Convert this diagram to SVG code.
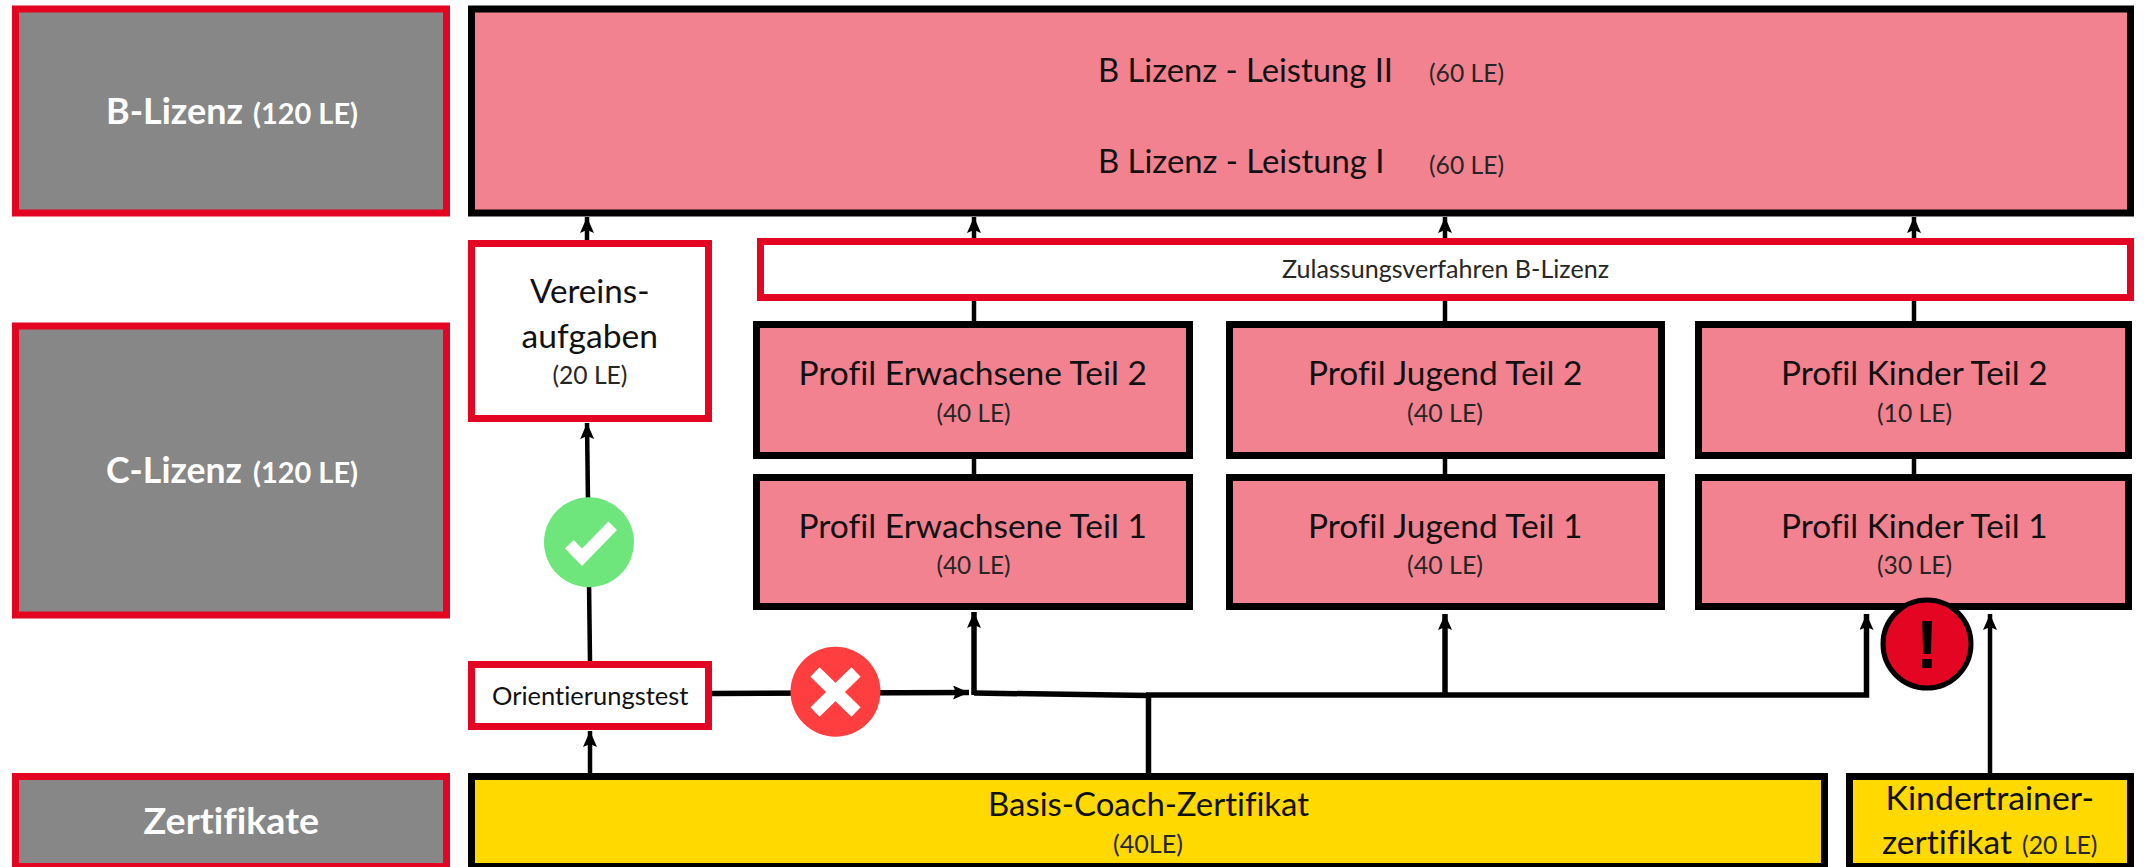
<svg xmlns="http://www.w3.org/2000/svg" width="2144" height="867" viewBox="0 0 2144 867">
<style>
text{font-family:"Lato","Carlito","Open Sans",sans-serif;fill:#111;font-variant-ligatures:none}
.h{font-size:37px;font-weight:700;fill:#fff}
.hs{font-size:28px;font-weight:700;fill:#fff}
.m{font-size:33px}
.s{font-size:25px;fill:#262626}
.bx{stroke-width:7}
.grey{fill:#878787;stroke:#e30521}
.pink{fill:#f28290;stroke:#000}
.white{fill:#fff;stroke:#e30521}
.yellow{fill:#ffd900;stroke:#000}
.c{fill:none;stroke:#000;stroke-width:4.5}
.t{stroke-width:5.5}
.a{marker-end:url(#arr)}
</style>
<defs>
<marker id="arr" markerUnits="userSpaceOnUse" markerWidth="18" markerHeight="16" refX="16" refY="7" orient="auto">
<path d="M0 0L16 7L0 14L3 7Z" fill="#000"/>
</marker>
</defs>
<rect width="2144" height="867" fill="#fff"/>
<g id="connectors">
<path class="c a" d="M587 240L587 217"/>
<path class="c a" d="M974 321L974 217"/>
<path class="c a" d="M1445 321L1445 217"/>
<path class="c a" d="M1914 321L1914 217"/>
<path class="c" d="M974 474V459M1445 474V459M1914 474V459"/>
<path class="c a" d="M590 661L587 423"/>
<path class="c a" d="M590 773L590 731"/>
<path class="c t a" d="M712 693.500L969 692.500"/>
<path class="c t a" d="M974 695L974 612"/>
<path class="c t" d="M974 693L1148 695.500"/>
<path class="c t" d="M1148.500 773V695"/>
<path class="c t a" d="M1146 695H1866.500V614"/>
<path class="c t a" d="M1445 695V614"/>
<path class="c a" d="M1990 773V614"/>
</g>
<g id="label-b"><rect class="bx grey" x="15.500" y="9" width="431" height="204"/>
<text class="h" x="106" y="124" textLength="137" lengthAdjust="spacingAndGlyphs">B-Lizenz</text>
<text class="hs" x="253" y="124" textLength="105" lengthAdjust="spacingAndGlyphs">(120 LE)</text></g>
<g id="label-c"><rect class="bx grey" x="15.500" y="326" width="431" height="289"/>
<text class="h" x="106" y="483" textLength="136" lengthAdjust="spacingAndGlyphs">C-Lizenz</text>
<text class="hs" x="253" y="483" textLength="105" lengthAdjust="spacingAndGlyphs">(120 LE)</text></g>
<g id="label-z"><rect class="bx grey" x="15.500" y="776.500" width="431" height="90"/>
<text class="h" x="143.600" y="834" textLength="175.500" lengthAdjust="spacingAndGlyphs">Zertifikate</text></g>
<g id="b-lizenz"><rect class="bx pink" x="471.500" y="9" width="1659" height="204"/>
<text class="m" x="1098" y="82" textLength="295" lengthAdjust="spacingAndGlyphs">B Lizenz - Leistung II</text>
<text class="s" x="1429" y="82" textLength="75" lengthAdjust="spacingAndGlyphs">(60 LE)</text>
<text class="m" x="1098" y="173" textLength="286.500" lengthAdjust="spacingAndGlyphs">B Lizenz - Leistung I</text>
<text class="s" x="1429" y="173.500" textLength="75" lengthAdjust="spacingAndGlyphs">(60 LE)</text></g>
<g id="vereinsaufgaben"><rect class="bx white" x="471.500" y="243.500" width="237" height="175"/>
<text class="m" x="530" y="303" textLength="119.500" lengthAdjust="spacingAndGlyphs">Vereins-</text>
<text class="m" x="521.600" y="348" textLength="136.500" lengthAdjust="spacingAndGlyphs">aufgaben</text>
<text class="s" x="552.400" y="384" textLength="75" lengthAdjust="spacingAndGlyphs">(20 LE)</text></g>
<g id="zulassung"><rect class="bx white" x="760.500" y="241.500" width="1370" height="56"/>
<text class="s" x="1282" y="278" textLength="327" lengthAdjust="spacingAndGlyphs">Zulassungsverfahren B-Lizenz</text></g>
<g id="erw2"><rect class="bx pink" x="756.500" y="324.500" width="433" height="131"/>
<text class="m" x="798.500" y="385" textLength="348.500" lengthAdjust="spacingAndGlyphs">Profil Erwachsene Teil 2</text>
<text class="s" x="936.500" y="422" textLength="74" lengthAdjust="spacingAndGlyphs">(40 LE)</text></g>
<g id="jug2"><rect class="bx pink" x="1229.500" y="324.500" width="432" height="131"/>
<text class="m" x="1308" y="385" textLength="274.500" lengthAdjust="spacingAndGlyphs">Profil Jugend Teil 2</text>
<text class="s" x="1407" y="422" textLength="76" lengthAdjust="spacingAndGlyphs">(40 LE)</text></g>
<g id="kin2"><rect class="bx pink" x="1698.500" y="324.500" width="430" height="131"/>
<text class="m" x="1781" y="385" textLength="266.500" lengthAdjust="spacingAndGlyphs">Profil Kinder Teil 2</text>
<text class="s" x="1877" y="422" textLength="75" lengthAdjust="spacingAndGlyphs">(10 LE)</text></g>
<g id="erw1"><rect class="bx pink" x="756.500" y="477.500" width="433" height="129"/>
<text class="m" x="798.500" y="538" textLength="348.500" lengthAdjust="spacingAndGlyphs">Profil Erwachsene Teil 1</text>
<text class="s" x="936.500" y="574" textLength="74" lengthAdjust="spacingAndGlyphs">(40 LE)</text></g>
<g id="jug1"><rect class="bx pink" x="1229.500" y="477.500" width="432" height="129"/>
<text class="m" x="1308" y="538" textLength="274.500" lengthAdjust="spacingAndGlyphs">Profil Jugend Teil 1</text>
<text class="s" x="1407" y="574" textLength="76" lengthAdjust="spacingAndGlyphs">(40 LE)</text></g>
<g id="kin1"><rect class="bx pink" x="1698.500" y="477.500" width="430" height="129"/>
<text class="m" x="1781" y="538" textLength="266.500" lengthAdjust="spacingAndGlyphs">Profil Kinder Teil 1</text>
<text class="s" x="1877" y="574" textLength="75" lengthAdjust="spacingAndGlyphs">(30 LE)</text></g>
<g id="orientierung"><rect class="bx white" x="471.500" y="664.500" width="237" height="62"/>
<text class="s" x="492" y="705" textLength="196.500" lengthAdjust="spacingAndGlyphs" style="fill:#111">Orientierungstest</text></g>
<g id="basis"><rect class="bx yellow" x="471.500" y="776.500" width="1353" height="90"/>
<text class="m" x="988" y="816" textLength="321" lengthAdjust="spacingAndGlyphs">Basis-Coach-Zertifikat</text>
<text class="s" x="1113" y="853" textLength="70" lengthAdjust="spacingAndGlyphs">(40LE)</text></g>
<g id="kindertrainer"><rect class="bx yellow" x="1849.500" y="776.500" width="281" height="90"/>
<text class="m" x="1885.600" y="810" textLength="208.400" lengthAdjust="spacingAndGlyphs">Kindertrainer-</text>
<text class="m" x="1882" y="854" textLength="130" lengthAdjust="spacingAndGlyphs">zertifikat</text>
<text class="s" x="2022" y="854" textLength="75.500" lengthAdjust="spacingAndGlyphs">(20 LE)</text></g>
<g id="ok"><circle cx="589" cy="542.300" r="45" fill="#6ee67c"/>
<path d="M569.300 544.300L582 557.300L612.700 525.700" fill="none" stroke="#fff" stroke-width="12"/></g>
<g id="no"><circle cx="835.500" cy="691.700" r="45" fill="#ff3f3f"/>
<path d="M815 672L856 712M856 672L815 712" fill="none" stroke="#fff" stroke-width="13"/></g>
<g id="warn"><circle cx="1927" cy="644" r="44" fill="#e30521" stroke="#000" stroke-width="5"/>
<text x="1927" y="668" text-anchor="middle" style="font-family:'Liberation Sans',sans-serif;font-weight:700;font-size:68px;fill:#000">!</text></g>
</svg>
